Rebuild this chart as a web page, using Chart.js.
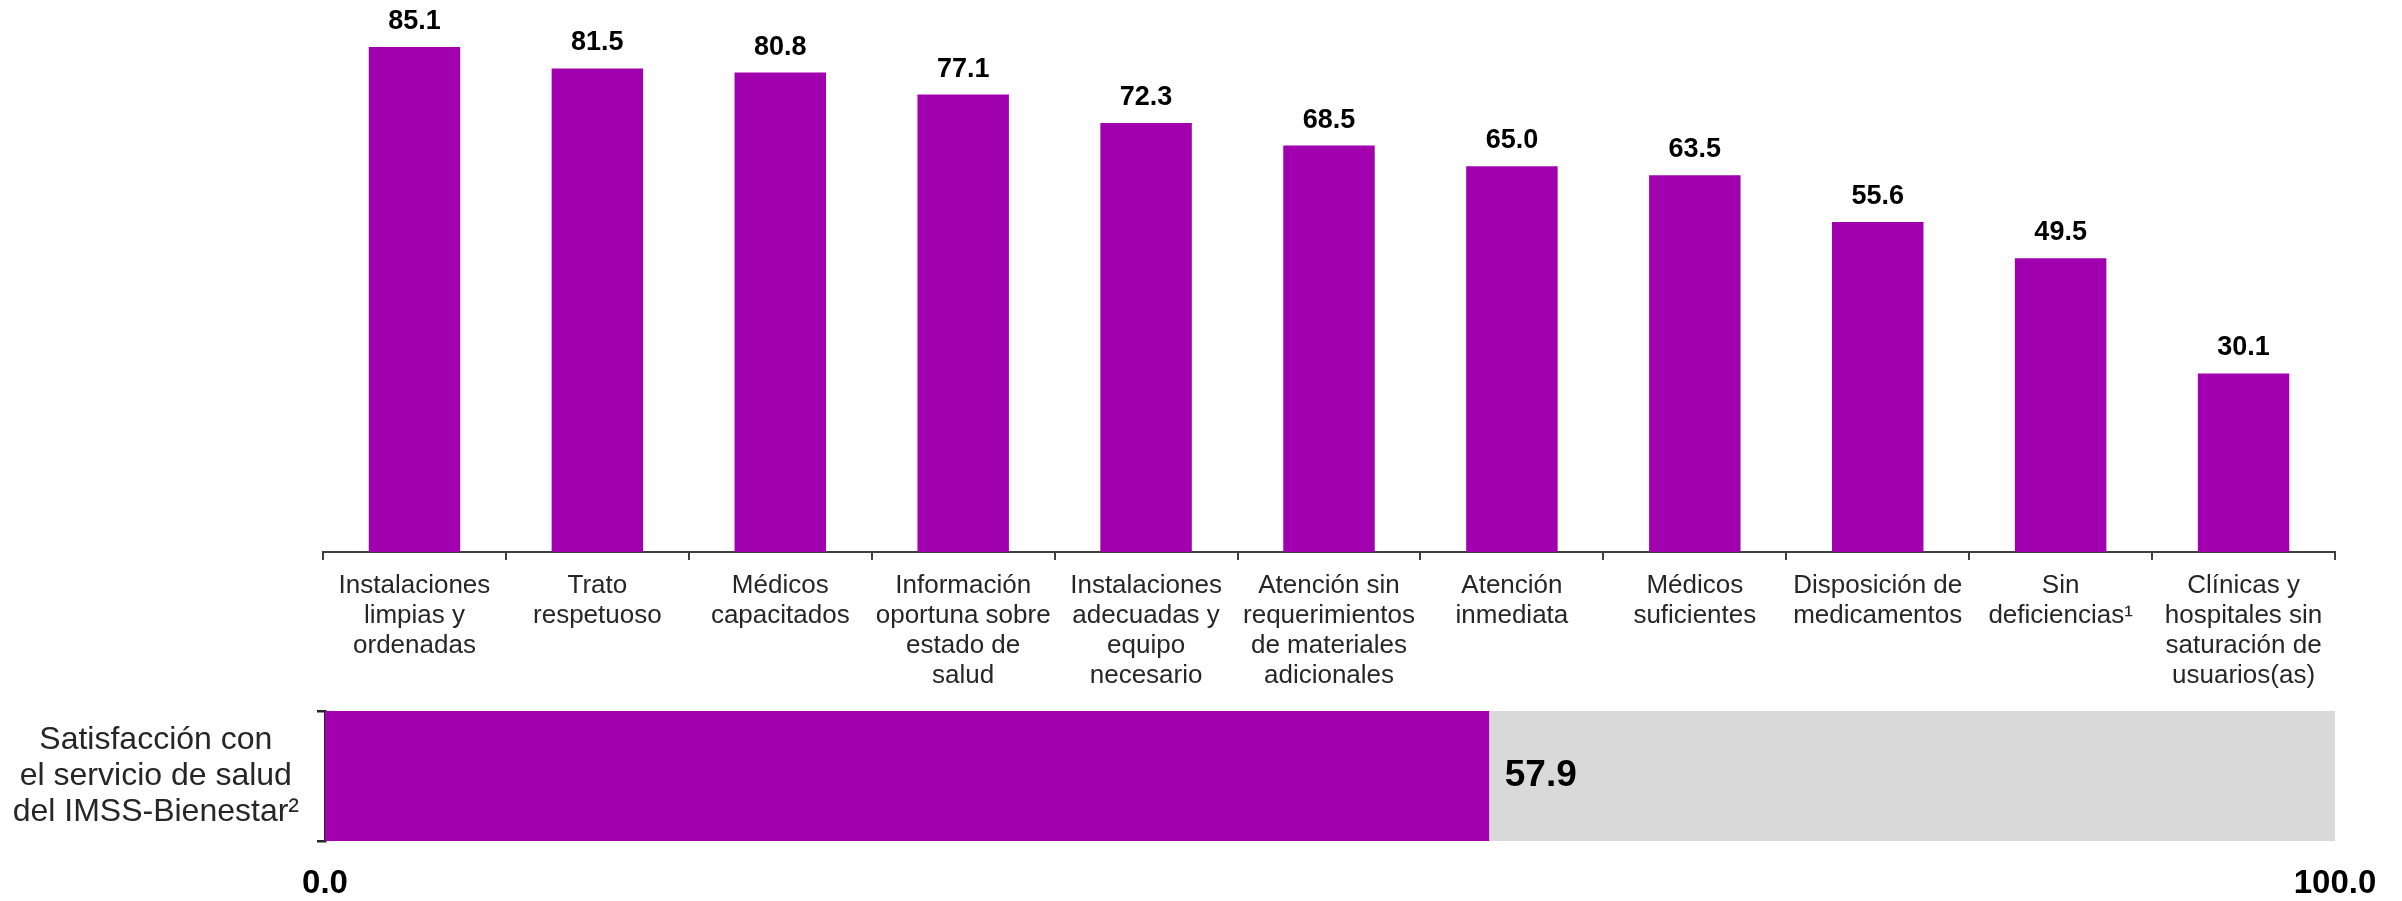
<!DOCTYPE html>
<html>
<head>
<meta charset="utf-8">
<script src="https://cdn.jsdelivr.net/npm/chart.js@4.4.1/dist/chart.umd.min.js"></script>
<style>
  html, body { margin: 0; padding: 0; background: #fff; }
  #top { position: absolute; left: 0; top: 0; }
  #bottom { position: absolute; left: 0; top: 690px; }
</style>
</head>
<body>
<canvas id="top" width="2402" height="690"></canvas>
<canvas id="bottom" width="2402" height="211"></canvas>
<script>
// Satisfaction with the health service (IMSS-Bienestar), by aspect
const categories = [
  ['Instalaciones', 'limpias y', 'ordenadas'],
  ['Trato', 'respetuoso'],
  ['Médicos', 'capacitados'],
  ['Información', 'oportuna sobre', 'estado de', 'salud'],
  ['Instalaciones', 'adecuadas y', 'equipo', 'necesario'],
  ['Atención sin', 'requerimientos', 'de materiales', 'adicionales'],
  ['Atención', 'inmediata'],
  ['Médicos', 'suficientes'],
  ['Disposición de', 'medicamentos'],
  ['Sin', 'deficiencias¹'],
  ['Clínicas y', 'hospitales sin', 'saturación de', 'usuarios(as)']
];
const aspectValues = [85.1, 81.5, 80.8, 77.1, 72.3, 68.5, 65.0, 63.5, 55.6, 49.5, 30.1];

const overallLabel = [['Satisfacción con', 'el servicio de salud', 'del IMSS-Bienestar²']];
const overallValue = [57.9];
const overallTrack = [100];

const PURPLE = '#a000ae';
const GREY = '#d9d9d9';
const AXIS = '#404040';

Chart.defaults.font.family = "'Liberation Sans', Arial, sans-serif";
Chart.defaults.animation = false;

// draws the numbers on the bars (no datalabels plugin offline)
const valueLabels = {
  id: 'valueLabels',
  afterDatasetsDraw(chart, args, opts) {
    const ctx = chart.ctx;
    const meta = chart.getDatasetMeta(0);
    const data = chart.data.datasets[0].data;
    ctx.save();
    ctx.font = opts.font;
    ctx.fillStyle = '#000';
    meta.data.forEach((bar, i) => {
      const txt = data[i].toFixed(1);
      if (opts.mode === 'top') {
        ctx.textAlign = 'center';
        ctx.textBaseline = 'alphabetic';
        ctx.fillText(txt, bar.x, bar.y - 18);
      } else {
        ctx.textAlign = 'left';
        ctx.textBaseline = 'middle';
        ctx.fillText(txt, bar.x + 16, bar.y);
      }
    });
    ctx.restore();
  }
};

new Chart(document.getElementById('top'), {
  type: 'bar',
  data: {
    labels: categories,
    datasets: [{
      data: aspectValues,
      backgroundColor: PURPLE,
      barPercentage: 0.5,
      categoryPercentage: 1
    }]
  },
  options: {
    responsive: false,
    layout: { padding: { left: 323, right: 67, top: 18, bottom: 0 } },
    plugins: {
      legend: { display: false },
      tooltip: { enabled: false },
      valueLabels: { mode: 'top', font: 'bold 27px "Liberation Sans", Arial, sans-serif' }
    },
    scales: {
      y: { display: false, min: 0, max: 90 },
      x: {
        afterFit(scale) { scale.height = 138; },
        border: { display: true, color: AXIS, width: 2 },
        grid: { offset: true, drawOnChartArea: false, drawTicks: true, tickLength: 8, color: AXIS, lineWidth: 2 },
        ticks: {
          color: '#262626',
          font: { size: 26, lineHeight: '30px' },
          padding: 11,
          maxRotation: 0,
          autoSkip: false
        }
      }
    }
  },
  plugins: [valueLabels]
});

new Chart(document.getElementById('bottom'), {
  type: 'bar',
  data: {
    labels: overallLabel,
    datasets: [
      { data: overallValue, backgroundColor: PURPLE, barPercentage: 1, categoryPercentage: 1, grouped: false },
      { data: overallTrack, backgroundColor: GREY, barPercentage: 1, categoryPercentage: 1, grouped: false }
    ]
  },
  options: {
    responsive: false,
    indexAxis: 'y',
    layout: { padding: { left: 0, right: 67, top: 21, bottom: 0 } },
    plugins: {
      legend: { display: false },
      tooltip: { enabled: false },
      valueLabels: { mode: 'end', font: 'bold 37px "Liberation Sans", Arial, sans-serif' }
    },
    scales: {
      x: {
        min: 0, max: 100,
        afterFit(scale) { scale.height = 60; },
        border: { display: false },
        grid: { display: false, drawTicks: false },
        ticks: {
          stepSize: 100,
          color: '#000',
          font: { size: 33, weight: 'bold' },
          padding: 23,
          callback: v => v.toFixed(1)
        }
      },
      y: {
        // the 3-line label must not push the bar band inwards
        afterFit(scale) {
          scale.width = 325;
          scale.paddingTop = 0;
          scale.paddingBottom = 0;
        },
        border: { display: true, color: '#262626', width: 2.5 },
        grid: { offset: true, drawOnChartArea: false, drawTicks: true, tickLength: 8, color: '#262626', lineWidth: 2.5 },
        ticks: {
          color: '#262626',
          font: { size: 32, lineHeight: '36px' },
          crossAlign: 'center',
          padding: 18
        }
      }
    }
  },
  plugins: [valueLabels]
});
</script>
</body>
</html>
